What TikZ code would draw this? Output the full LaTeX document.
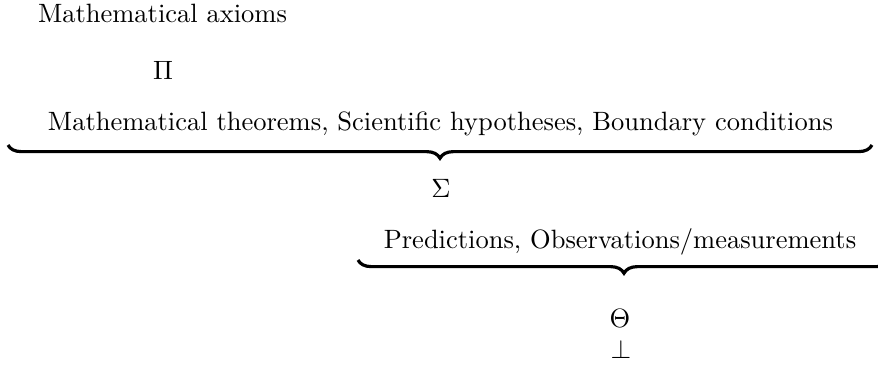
\documentclass[tikz,border=0pt]{standalone}
\usepackage{amsmath,amssymb}
\usepackage{tikz}
\usetikzlibrary{decorations.pathreplacing,positioning}

\tikzset{
  lbl/.style={anchor=base,inner sep=0pt},
  ubrace/.style={decorate,decoration={brace,mirror,amplitude=5pt},line width=1.2pt}
}

\begin{document}
\begin{tikzpicture}[x=0.3774pt,y=-0.3774pt]
  % frame of the page
  \useasboundingbox (0,0) rectangle (878,372);
  \clip (0,0) rectangle (878,372);

  % top part
  \node[lbl] (axioms) at (162.5,22) {Mathematical axioms};
  \node[lbl] (pi) at (163,79) {$\Pi$};
  \node[lbl] (theorems) at (440.5,130)
    {Mathematical theorems, Scientific hypotheses, Boundary conditions};

  % first brace
  \coordinate (b1l) at (8,145);
  \coordinate (b1r) at (872,145);
  \draw[ubrace] (b1l) -- (b1r);

  \node[lbl] (sigma) at (441,197) {$\Sigma$};
  \node[lbl] (predictions) at (620,248) {Predictions, Observations/measurements};

  % second brace (runs past the right edge)
  \coordinate (b2l) at (358,260);
  \coordinate (b2r) at (890,260);
  \draw[ubrace] (b2l) -- (b2r);

  \node[lbl] (theta) at (620,327) {$\Theta$};
  \node[lbl] (bottom) at (621,358) {$\perp$};
\end{tikzpicture}
\end{document}
